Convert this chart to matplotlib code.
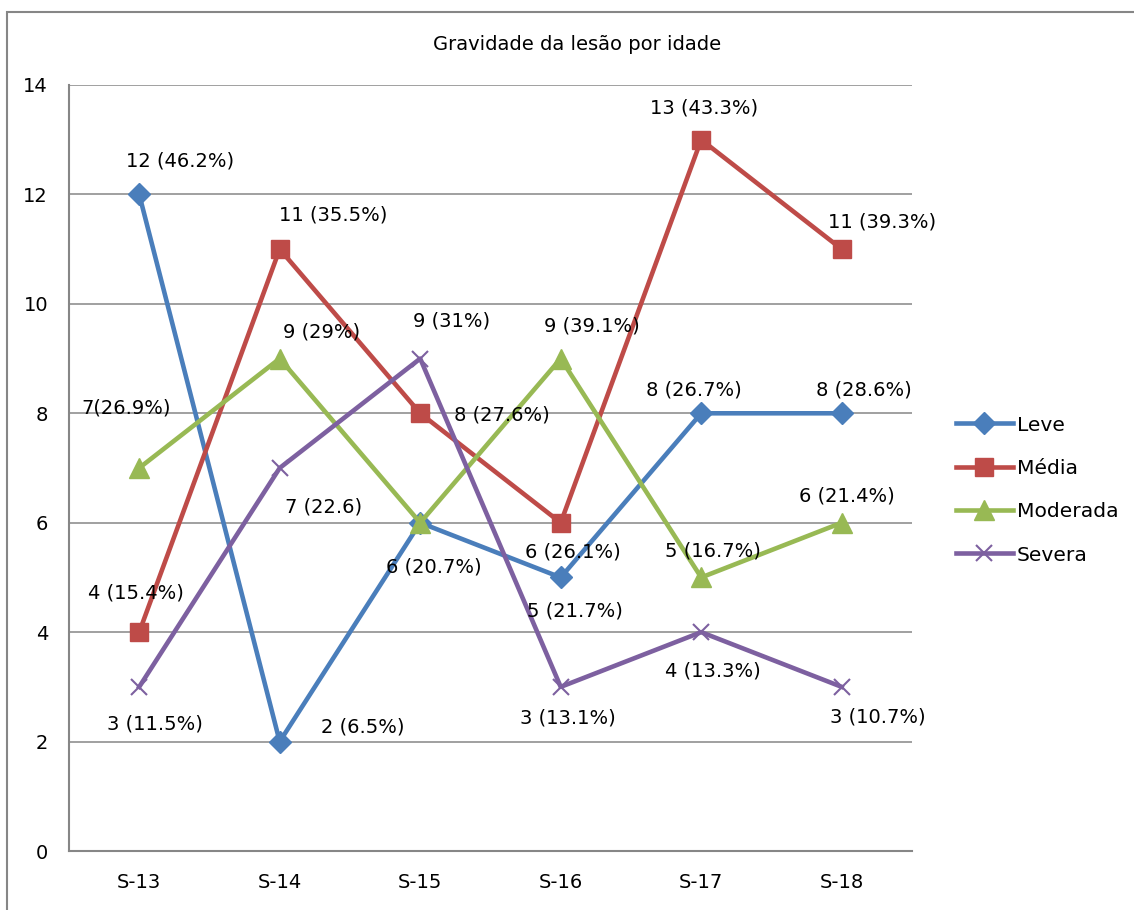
import matplotlib.pyplot as plt
from matplotlib.patches import Rectangle

plt.rcParams['font.family'] = ['DejaVu Sans']

# categorias (idade) e contagens por gravidade
idades = ['S-13', 'S-14', 'S-15', 'S-16', 'S-17', 'S-18']

leve = [12, 2, 6, 5, 8, 8]
media = [4, 11, 8, 6, 13, 11]
moderada = [7, 9, 6, 9, 5, 6]
severa = [3, 7, 9, 3, 4, 3]

# rótulos tal como aparecem no relatório
leve_lbl = ['12 (46.2%)', '2 (6.5%)', '6 (20.7%)', '5 (21.7%)', '8 (26.7%)', '8 (28.6%)']
media_lbl = ['4 (15.4%)', '11 (35.5%)', '8 (27.6%)', '6 (26.1%)', '13 (43.3%)', '11 (39.3%)']
moderada_lbl = ['7(26.9%)', '9 (29%)', None, '9 (39.1%)', '5 (16.7%)', '6 (21.4%)']
severa_lbl = ['3 (11.5%)', '7 (22.6)', '9 (31%)', '3 (13.1%)', '4 (13.3%)', '3 (10.7%)']

# deslocamento dos rótulos (unidades do eixo)
leve_off = [(0.29, 0.62), (0.59, 0.26), (0.10, -0.80), (0.10, -0.62), (-0.05, 0.42), (0.16, 0.42)]
media_off = [(-0.02, 0.71), (0.38, 0.62), (0.58, -0.04), (0.09, -0.53), (0.02, 0.58), (0.29, 0.49)]
moderada_off = [(-0.09, 1.10), (0.30, 0.48), (0, 0), (0.22, 0.60), (0.08, 0.48), (0.04, 0.49)]
severa_off = [(0.11, -0.68), (0.31, -0.71), (0.22, 0.68), (0.05, -0.57), (0.08, -0.71), (0.26, -0.55)]

series = [
    ('Leve', leve, leve_lbl, leve_off, '#4A7EBB', 'D', 11.5, 1),
    ('Média', media, media_lbl, media_off, '#BE4B48', 's', 13, 1),
    ('Moderada', moderada, moderada_lbl, moderada_off, '#98B954', '^', 14, 1),
    ('Severa', severa, severa_lbl, severa_off, '#7D60A0', 'x', 12, 1.5),
]

FS = 14
GRAY = '#868686'

fig = plt.figure(figsize=(11.34, 9.10), dpi=100)
ax = fig.add_axes([0.0608, 0.0648, 0.7434, 0.8418])

xs = range(len(idades))
for nome, vals, lbls, offs, cor, mk, ms, mew in series:
    ax.plot(xs, vals, color=cor, lw=3.3, marker=mk, ms=ms, mew=mew,
            mec=cor, mfc=cor, label=nome, zorder=3)
    for x, v, t, (dx, dy) in zip(xs, vals, lbls, offs):
        if t is None:
            continue
        ax.text(x + dx, v + dy, t, ha='center', va='center', fontsize=FS, zorder=4)

ax.set_xlim(-0.5, 5.5)
ax.set_ylim(0, 14)
ax.set_yticks(range(0, 15, 2))
ax.set_xticks(list(xs))
ax.set_xticklabels(idades)
ax.tick_params(length=0, labelsize=FS)
ax.tick_params(axis='y', pad=15)
ax.tick_params(axis='x', pad=16)
ax.grid(axis='y', color=GRAY, lw=1.1)
ax.set_axisbelow(True)
for lado in ('top', 'right'):
    ax.spines[lado].set_visible(False)
for lado in ('left', 'bottom'):
    ax.spines[lado].set_color(GRAY)
    ax.spines[lado].set_linewidth(1.5)

fig.text(0.509, 0.951, 'Gravidade da lesão por idade', ha='center', va='center', fontsize=FS)

fig.legend(loc='center left', bbox_to_anchor=(0.827, 0.4615), frameon=False,
           fontsize=14.6, handlelength=2.8, handletextpad=0.2, labelspacing=1.2)

# moldura da área do gráfico
fig.patches.append(Rectangle((7 / 1134, -0.1), 2, 1.1 - 12 / 910,
                             transform=fig.transFigure, fill=False,
                             ec=GRAY, lw=1.5, clip_on=False))

fig.savefig('out.png', dpi=100, facecolor='white')
